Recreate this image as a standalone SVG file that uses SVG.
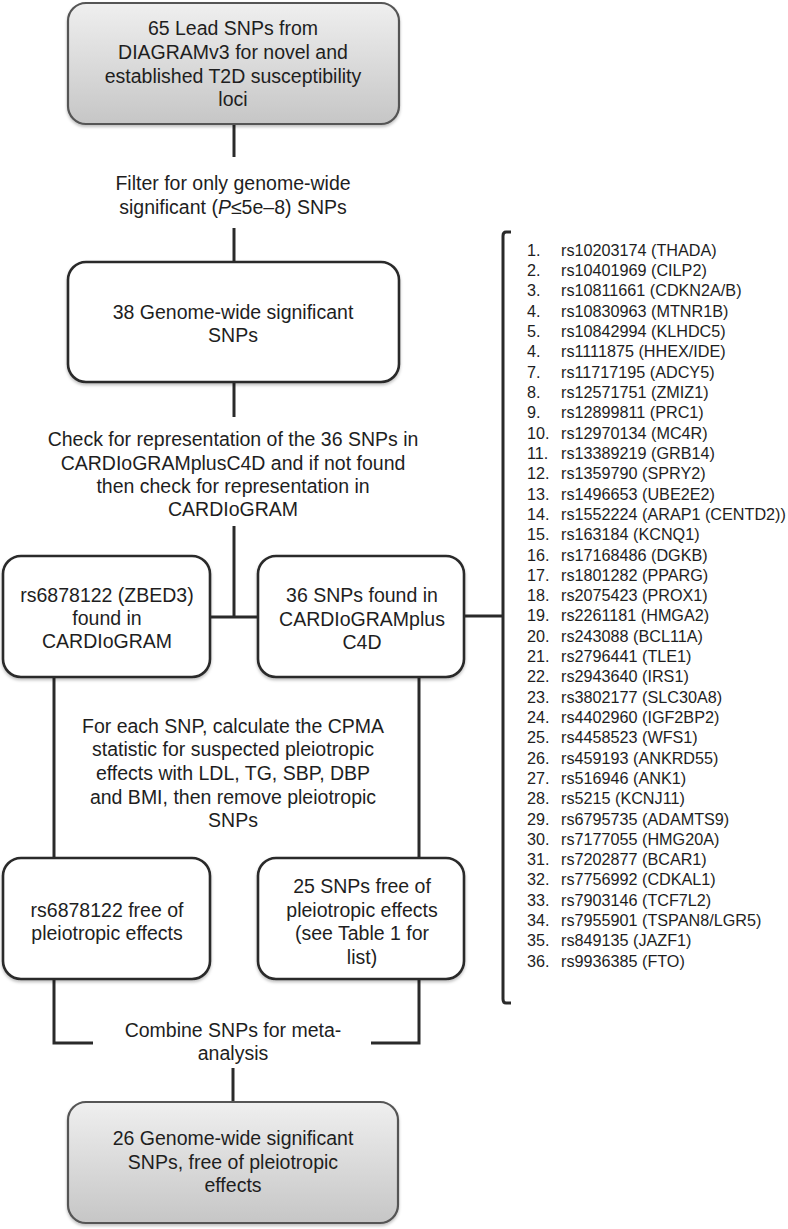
<svg xmlns="http://www.w3.org/2000/svg" width="788" height="1229" viewBox="0 0 788 1229">
<defs>
<linearGradient id="gray" x1="0" y1="0" x2="0" y2="1">
<stop offset="0" stop-color="#efefef"/>
<stop offset="1" stop-color="#c6c6c6"/>
</linearGradient>
<filter id="sh" x="-5%" y="-5%" width="110%" height="115%">
<feDropShadow dx="0" dy="2" stdDeviation="1.5" flood-color="#000" flood-opacity="0.25"/>
</filter>
</defs>
<style>
.box{fill:#fff;stroke:#2a2a2a;stroke-width:2.6;filter:url(#sh)}
.gbox{fill:url(#gray);stroke:#555;stroke-width:2.2;filter:url(#sh)}
.ln{fill:none;stroke:#2a2a2a;stroke-width:3;stroke-linecap:butt}
text{font-family:"Liberation Sans",Arial,sans-serif;fill:#1e1e1e}
.t{font-size:19.5px;text-anchor:middle}
.l{font-size:16.2px}
</style>
<rect width="788" height="1229" fill="#fff"/>

<g id="connectors">
<line class="ln" x1="234" y1="124" x2="234" y2="157"/>
<line class="ln" x1="234" y1="228" x2="234" y2="262"/>
<line class="ln" x1="234" y1="382" x2="234" y2="417"/>
<line class="ln" x1="234" y1="526" x2="234" y2="617"/>
<line class="ln" x1="210" y1="617" x2="258" y2="617"/>
<line class="ln" x1="464" y1="616" x2="503" y2="616"/>
<path class="ln" d="M511,232 H506 Q503,232 503,236 V999 Q503,1003 506,1003 H511"/>
<line class="ln" x1="54" y1="677" x2="54" y2="858"/>
<line class="ln" x1="419" y1="677" x2="419" y2="858"/>
<polyline class="ln" points="54,979 54,1043 93,1043"/>
<polyline class="ln" points="419,979 419,1043 371,1043"/>
<line class="ln" x1="233" y1="1068" x2="233" y2="1102"/>
</g>

<g id="n1">
<rect class="gbox" x="68" y="3" width="331" height="121" rx="18"/>
<text class="t"><tspan x="233" y="35">65 Lead SNPs from</tspan><tspan x="233" y="59">DIAGRAMv3 for novel and</tspan><tspan x="233" y="83">established T2D susceptibility</tspan><tspan x="233" y="106">loci</tspan></text>
</g>

<g id="e1">
<text class="t"><tspan x="233" y="190">Filter for only genome-wide</tspan><tspan x="233" y="214">significant (<tspan font-style="italic">P</tspan>≤5e–8) SNPs</tspan></text>
</g>

<g id="n2">
<rect class="box" x="68" y="262" width="331" height="120" rx="18"/>
<text class="t"><tspan x="233" y="319">38 Genome-wide significant</tspan><tspan x="233" y="342">SNPs</tspan></text>
</g>

<g id="e2">
<text class="t"><tspan x="233" y="446">Check for representation of the 36 SNPs in</tspan><tspan x="233" y="470">CARDIoGRAMplusC4D and if not found</tspan><tspan x="233" y="493">then check for representation in</tspan><tspan x="233" y="516">CARDIoGRAM</tspan></text>
</g>

<g id="n3">
<rect class="box" x="3" y="556" width="207" height="121" rx="18"/>
<text class="t"><tspan x="107" y="602">rs6878122 (ZBED3)</tspan><tspan x="107" y="625">found in</tspan><tspan x="107" y="648">CARDIoGRAM</tspan></text>
</g>

<g id="n4">
<rect class="box" x="258" y="556" width="206" height="121" rx="18"/>
<text class="t"><tspan x="362" y="602">36 SNPs found in</tspan><tspan x="362" y="626">CARDIoGRAMplus</tspan><tspan x="362" y="649">C4D</tspan></text>
</g>

<g id="e3">
<text class="t"><tspan x="233" y="733">For each SNP, calculate the CPMA</tspan><tspan x="233" y="756">statistic for suspected pleiotropic</tspan><tspan x="233" y="780">effects with LDL, TG, SBP, DBP</tspan><tspan x="233" y="804">and BMI, then remove pleiotropic</tspan><tspan x="233" y="827">SNPs</tspan></text>
</g>

<g id="n5">
<rect class="box" x="3" y="858" width="207" height="121" rx="18"/>
<text class="t"><tspan x="107" y="917">rs6878122 free of</tspan><tspan x="107" y="940">pleiotropic effects</tspan></text>
</g>

<g id="n6">
<rect class="box" x="258" y="858" width="206" height="121" rx="18"/>
<text class="t"><tspan x="362" y="893">25 SNPs free of</tspan><tspan x="362" y="917">pleiotropic effects</tspan><tspan x="362" y="940">(see Table 1 for</tspan><tspan x="362" y="964">list)</tspan></text>
</g>

<g id="e4">
<text class="t"><tspan x="233" y="1037">Combine SNPs for meta-</tspan><tspan x="233" y="1060">analysis</tspan></text>
</g>

<g id="n7">
<rect class="gbox" x="68" y="1102" width="330" height="121" rx="18"/>
<text class="t"><tspan x="233" y="1145">26 Genome-wide significant</tspan><tspan x="233" y="1169">SNPs, free of pleiotropic</tspan><tspan x="233" y="1192">effects</tspan></text>
</g>

<g id="list">
<text class="l">
<tspan x="527" y="255.8">1.</tspan><tspan x="561" y="255.8">rs10203174 (THADA)</tspan>
<tspan x="527" y="276.1">2.</tspan><tspan x="561" y="276.1">rs10401969 (CILP2)</tspan>
<tspan x="527" y="296.4">3.</tspan><tspan x="561" y="296.4">rs10811661 (CDKN2A/B)</tspan>
<tspan x="527" y="316.7">4.</tspan><tspan x="561" y="316.7">rs10830963 (MTNR1B)</tspan>
<tspan x="527" y="337.0">5.</tspan><tspan x="561" y="337.0">rs10842994 (KLHDC5)</tspan>
<tspan x="527" y="357.4">4.</tspan><tspan x="561" y="357.4">rs1111875 (HHEX/IDE)</tspan>
<tspan x="527" y="377.7">7.</tspan><tspan x="561" y="377.7">rs11717195 (ADCY5)</tspan>
<tspan x="527" y="398.0">8.</tspan><tspan x="561" y="398.0">rs12571751 (ZMIZ1)</tspan>
<tspan x="527" y="418.3">9.</tspan><tspan x="561" y="418.3">rs12899811 (PRC1)</tspan>
<tspan x="527" y="438.6">10.</tspan><tspan x="561" y="438.6">rs12970134 (MC4R)</tspan>
<tspan x="527" y="458.9">11.</tspan><tspan x="561" y="458.9">rs13389219 (GRB14)</tspan>
<tspan x="527" y="479.2">12.</tspan><tspan x="561" y="479.2">rs1359790 (SPRY2)</tspan>
<tspan x="527" y="499.5">13.</tspan><tspan x="561" y="499.5">rs1496653 (UBE2E2)</tspan>
<tspan x="527" y="519.8">14.</tspan><tspan x="561" y="519.8">rs1552224 (ARAP1 (CENTD2))</tspan>
<tspan x="527" y="540.1">15.</tspan><tspan x="561" y="540.1">rs163184 (KCNQ1)</tspan>
<tspan x="527" y="560.5">16.</tspan><tspan x="561" y="560.5">rs17168486 (DGKB)</tspan>
<tspan x="527" y="580.8">17.</tspan><tspan x="561" y="580.8">rs1801282 (PPARG)</tspan>
<tspan x="527" y="601.1">18.</tspan><tspan x="561" y="601.1">rs2075423 (PROX1)</tspan>
<tspan x="527" y="621.4">19.</tspan><tspan x="561" y="621.4">rs2261181 (HMGA2)</tspan>
<tspan x="527" y="641.7">20.</tspan><tspan x="561" y="641.7">rs243088 (BCL11A)</tspan>
<tspan x="527" y="662.0">21.</tspan><tspan x="561" y="662.0">rs2796441 (TLE1)</tspan>
<tspan x="527" y="682.3">22.</tspan><tspan x="561" y="682.3">rs2943640 (IRS1)</tspan>
<tspan x="527" y="702.6">23.</tspan><tspan x="561" y="702.6">rs3802177 (SLC30A8)</tspan>
<tspan x="527" y="722.9">24.</tspan><tspan x="561" y="722.9">rs4402960 (IGF2BP2)</tspan>
<tspan x="527" y="743.2">25.</tspan><tspan x="561" y="743.2">rs4458523 (WFS1)</tspan>
<tspan x="527" y="763.6">26.</tspan><tspan x="561" y="763.6">rs459193 (ANKRD55)</tspan>
<tspan x="527" y="783.9">27.</tspan><tspan x="561" y="783.9">rs516946 (ANK1)</tspan>
<tspan x="527" y="804.2">28.</tspan><tspan x="561" y="804.2">rs5215 (KCNJ11)</tspan>
<tspan x="527" y="824.5">29.</tspan><tspan x="561" y="824.5">rs6795735 (ADAMTS9)</tspan>
<tspan x="527" y="844.8">30.</tspan><tspan x="561" y="844.8">rs7177055 (HMG20A)</tspan>
<tspan x="527" y="865.1">31.</tspan><tspan x="561" y="865.1">rs7202877 (BCAR1)</tspan>
<tspan x="527" y="885.4">32.</tspan><tspan x="561" y="885.4">rs7756992 (CDKAL1)</tspan>
<tspan x="527" y="905.7">33.</tspan><tspan x="561" y="905.7">rs7903146 (TCF7L2)</tspan>
<tspan x="527" y="926.0">34.</tspan><tspan x="561" y="926.0">rs7955901 (TSPAN8/LGR5)</tspan>
<tspan x="527" y="946.3">35.</tspan><tspan x="561" y="946.3">rs849135 (JAZF1)</tspan>
<tspan x="527" y="966.7">36.</tspan><tspan x="561" y="966.7">rs9936385 (FTO)</tspan>
</text>
</g>
</svg>
